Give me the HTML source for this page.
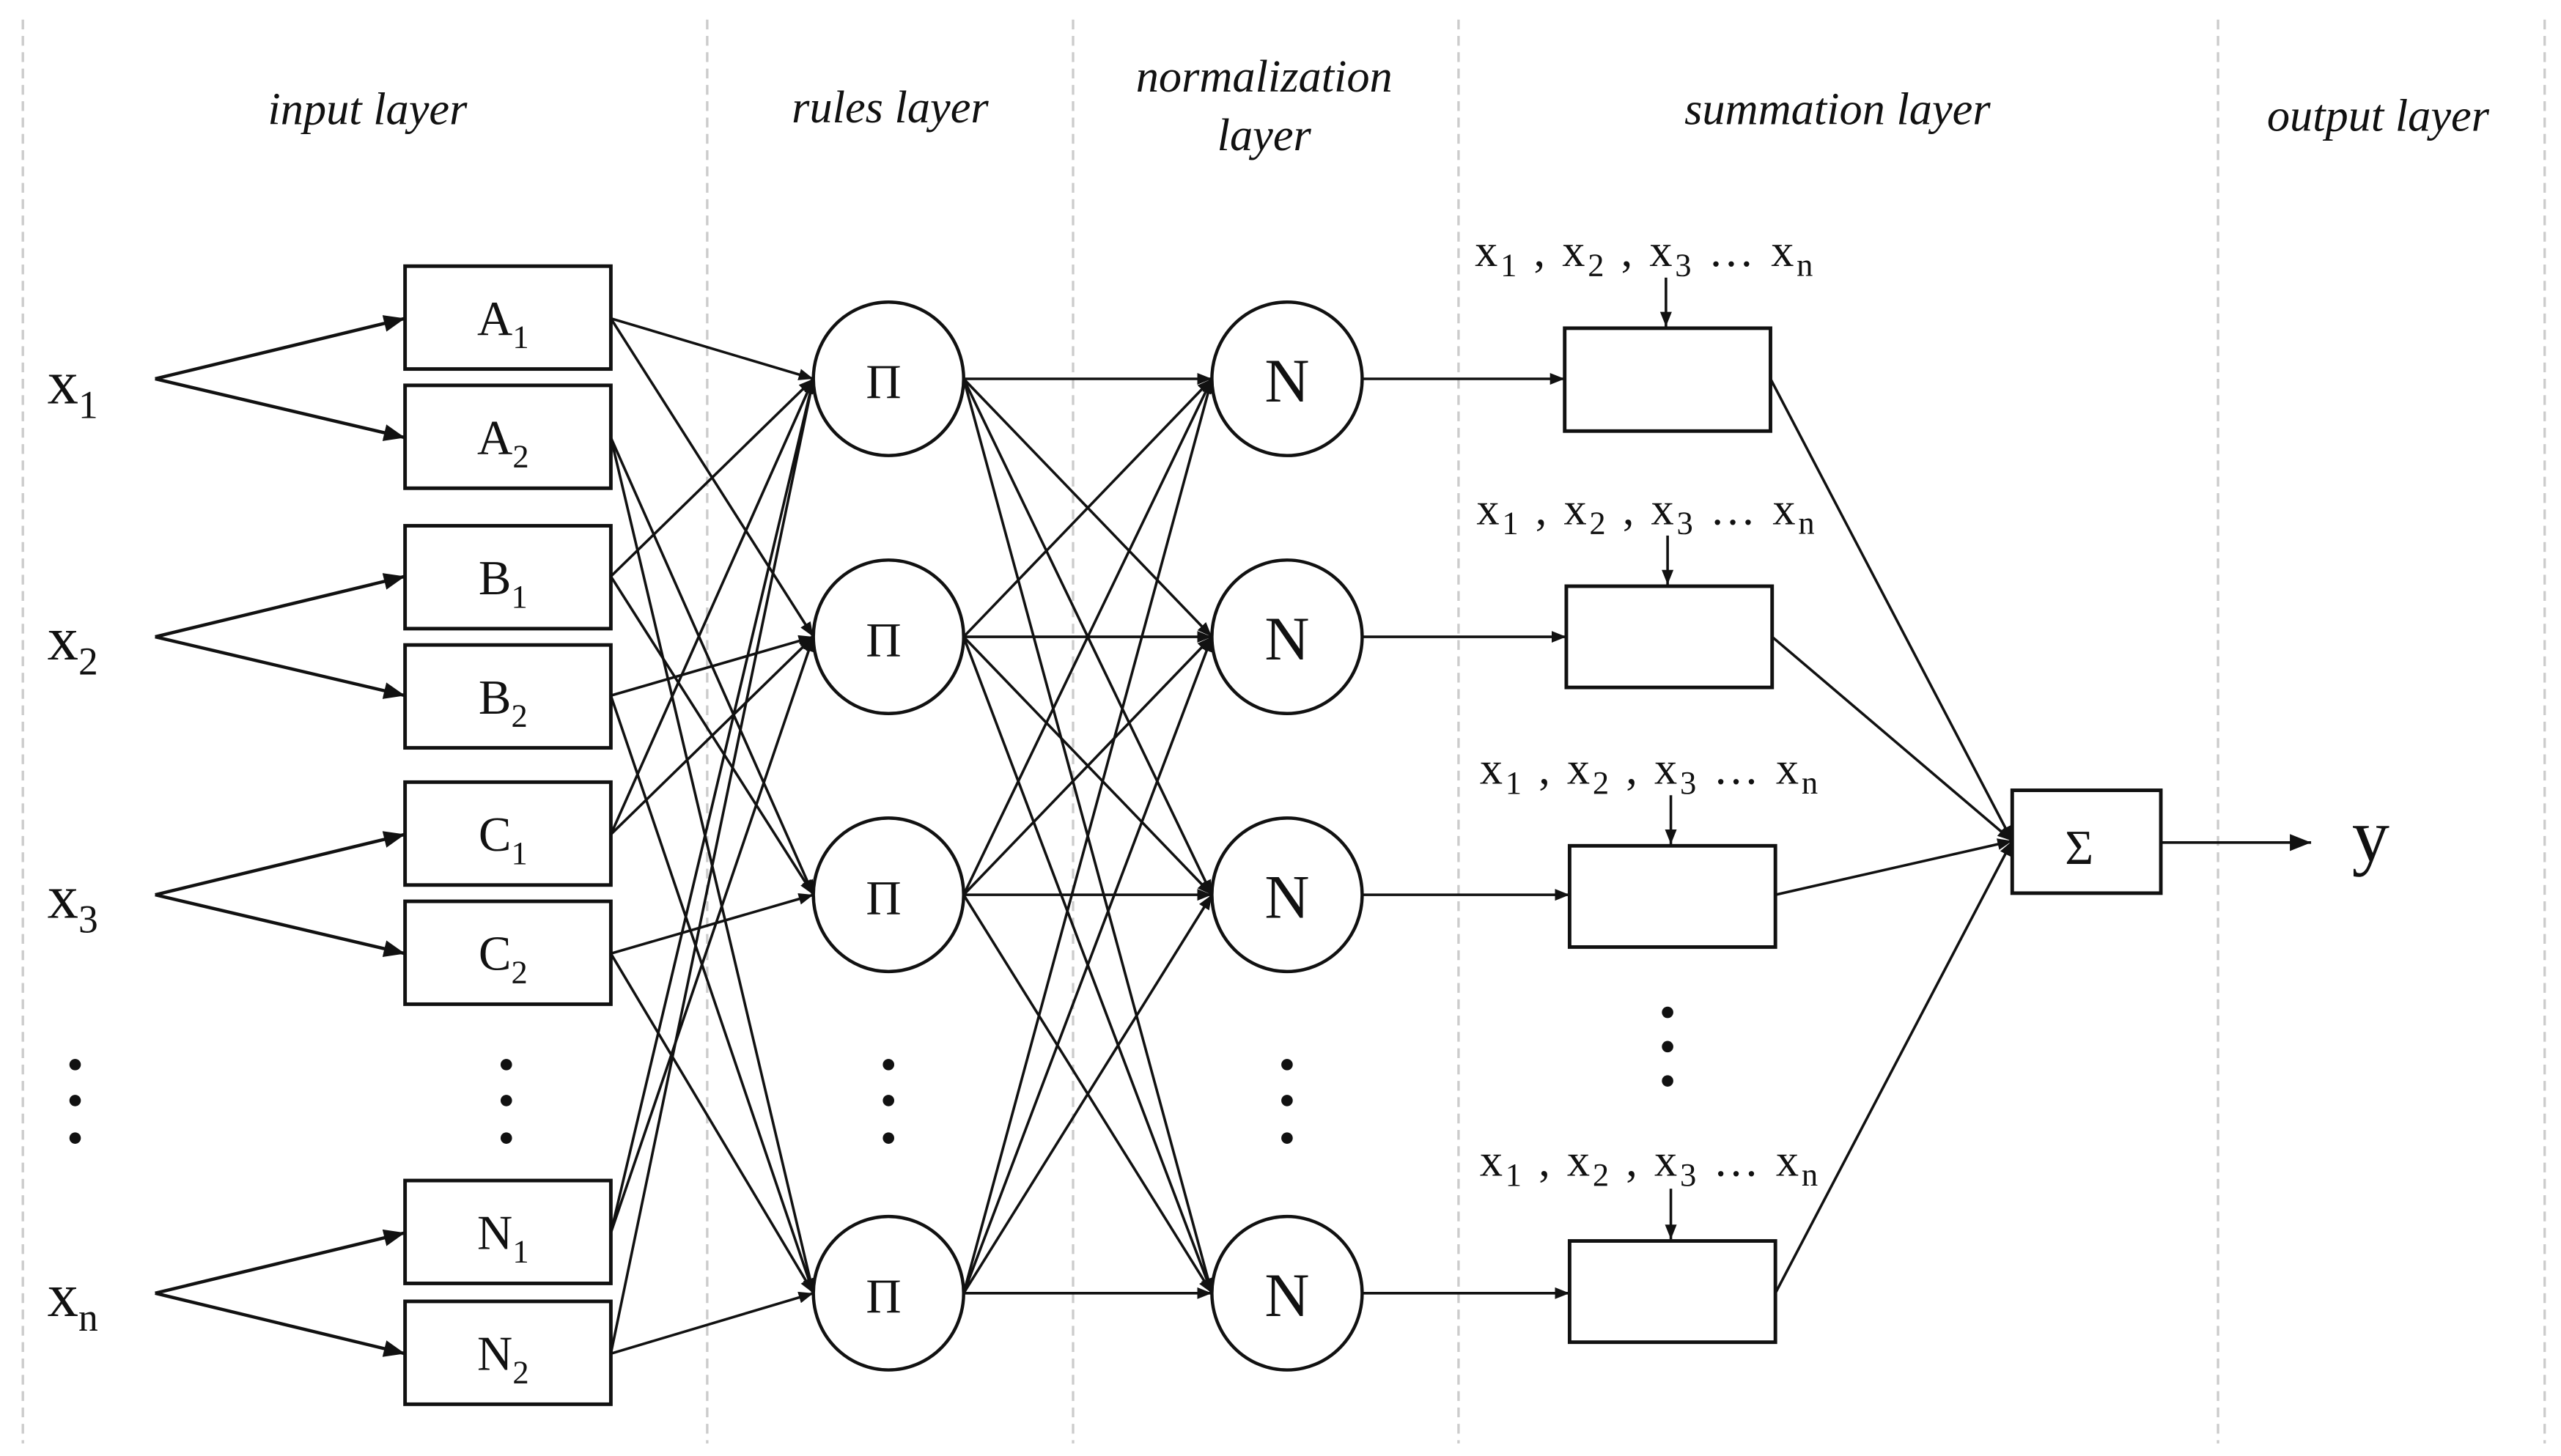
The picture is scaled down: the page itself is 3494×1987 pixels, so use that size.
<!DOCTYPE html>
<html><head><meta charset="utf-8"><style>
html,body{margin:0;padding:0;background:#fff;}
svg{display:block;}
text{font-family:"Liberation Serif",serif;fill:#111;}
.h{font-style:italic;font-size:28px;text-anchor:middle;}
.m{font-size:30px;text-anchor:middle;}
.s{font-size:20px;}
</style></head><body>
<svg width="3494" height="1987" viewBox="0 0 1568 891.7" xmlns="http://www.w3.org/2000/svg">
<defs><marker id="a" viewBox="0 0 10 10" refX="10" refY="5" markerWidth="9" markerHeight="9" markerUnits="userSpaceOnUse" orient="auto"><path d="M0,1 L10,5 L0,9 z" fill="#111"/></marker>
<marker id="b" viewBox="0 0 10 10" refX="10" refY="5" markerWidth="13" markerHeight="13" markerUnits="userSpaceOnUse" orient="auto"><path d="M0,1 L10,5 L0,9 z" fill="#111"/></marker></defs>
<g stroke="#ccc" stroke-width="1.5" stroke-dasharray="6,4">
<line x1="14" y1="12" x2="14" y2="884"/><line x1="433" y1="12" x2="433" y2="884"/><line x1="657" y1="12" x2="657" y2="884"/><line x1="893" y1="12" x2="893" y2="884"/><line x1="1358" y1="12" x2="1358" y2="884"/><line x1="1558" y1="12" x2="1558" y2="884"/>
</g>
<text class="h" x="225" y="76">input layer</text>
<text class="h" x="545" y="75">rules layer</text>
<text class="h" x="774" y="56">normalization</text>
<text class="h" x="774" y="92">layer</text>
<text class="h" x="1125" y="76">summation layer</text>
<text class="h" x="1456" y="80">output layer</text>
<g font-size="38">
<text x="29" y="247">x<tspan font-size="24" dy="9">1</tspan></text>
<text x="29" y="404">x<tspan font-size="24" dy="9">2</tspan></text>
<text x="29" y="562">x<tspan font-size="24" dy="9">3</tspan></text>
<text x="29" y="806">x<tspan font-size="24" dy="9">n</tspan></text>
</g>
<g fill="#111"><circle cx="46" cy="652" r="3.5"/><circle cx="46" cy="674" r="3.5"/><circle cx="46" cy="697" r="3.5"/>
<circle cx="310" cy="652" r="3.5"/><circle cx="310" cy="674" r="3.5"/><circle cx="310" cy="697" r="3.5"/>
<circle cx="544" cy="652" r="3.5"/><circle cx="544" cy="674" r="3.5"/><circle cx="544" cy="697" r="3.5"/>
<circle cx="788" cy="652" r="3.5"/><circle cx="788" cy="674" r="3.5"/><circle cx="788" cy="697" r="3.5"/>
<circle cx="1021" cy="620" r="3.5"/><circle cx="1021" cy="641" r="3.5"/><circle cx="1021" cy="662" r="3.5"/></g>
<g stroke="#111" stroke-width="2" fill="none" marker-end="url(#b)">
<path d="M95,232 L248,195"/><path d="M95,232 L248,268"/>
<path d="M95,390 L248,353"/><path d="M95,390 L248,426"/>
<path d="M95,548 L248,511"/><path d="M95,548 L248,584"/>
<path d="M95,792 L248,755"/><path d="M95,792 L248,829"/>
</g>
<g stroke="#111" stroke-width="2.2" fill="#fff">
<rect x="248" y="163" width="126" height="63"/><rect x="248" y="236" width="126" height="63"/>
<rect x="248" y="322" width="126" height="63"/><rect x="248" y="395" width="126" height="63"/>
<rect x="248" y="479" width="126" height="63"/><rect x="248" y="552" width="126" height="63"/>
<rect x="248" y="723" width="126" height="63"/><rect x="248" y="797" width="126" height="63"/>
</g>
<g class="m">
<text x="308" y="205">A<tspan font-size="20" dy="8">1</tspan></text>
<text x="308" y="278">A<tspan font-size="20" dy="8">2</tspan></text>
<text x="308" y="364">B<tspan font-size="20" dy="8">1</tspan></text>
<text x="308" y="437">B<tspan font-size="20" dy="8">2</tspan></text>
<text x="308" y="521">C<tspan font-size="20" dy="8">1</tspan></text>
<text x="308" y="594">C<tspan font-size="20" dy="8">2</tspan></text>
<text x="308" y="765">N<tspan font-size="20" dy="8">1</tspan></text>
<text x="308" y="839">N<tspan font-size="20" dy="8">2</tspan></text>
</g>
<g stroke="#111" stroke-width="1.6" fill="none" marker-end="url(#a)">
<path d="M374,195 L498,232"/><path d="M374,195 L498,390"/>
<path d="M374,268 L498,548"/><path d="M374,268 L498,792"/>
<path d="M374,353 L498,232"/><path d="M374,353 L498,548"/>
<path d="M374,426 L498,390"/><path d="M374,426 L498,792"/>
<path d="M374,511 L498,232"/><path d="M374,511 L498,390"/>
<path d="M374,584 L498,548"/><path d="M374,584 L498,792"/>
<path d="M374,755 L498,232"/><path d="M374,755 L498,390"/>
<path d="M374,829 L498,232"/><path d="M374,829 L498,792"/>
</g>
<g stroke="#111" stroke-width="1.6" fill="none" marker-end="url(#a)">
<path d="M590,232 L742,232"/><path d="M590,232 L742,390"/><path d="M590,232 L742,548"/><path d="M590,232 L742,792"/>
<path d="M590,390 L742,232"/><path d="M590,390 L742,390"/><path d="M590,390 L742,548"/><path d="M590,390 L742,792"/>
<path d="M590,548 L742,232"/><path d="M590,548 L742,390"/><path d="M590,548 L742,548"/><path d="M590,548 L742,792"/>
<path d="M590,792 L742,232"/><path d="M590,792 L742,390"/><path d="M590,792 L742,548"/><path d="M590,792 L742,792"/>
</g>
<g stroke="#111" stroke-width="2" fill="#fff">
<ellipse cx="544" cy="232" rx="46" ry="47"/><ellipse cx="544" cy="390" rx="46" ry="47"/><ellipse cx="544" cy="548" rx="46" ry="47"/><ellipse cx="544" cy="792" rx="46" ry="47"/>
<ellipse cx="788" cy="232" rx="46" ry="47"/><ellipse cx="788" cy="390" rx="46" ry="47"/><ellipse cx="788" cy="548" rx="46" ry="47"/><ellipse cx="788" cy="792" rx="46" ry="47"/>
</g>
<g class="m">
<text x="541" y="244">Π</text><text x="541" y="402">Π</text><text x="541" y="560">Π</text><text x="541" y="804">Π</text>
<g font-size="38"><text x="788" y="246">N</text><text x="788" y="404">N</text><text x="788" y="562">N</text><text x="788" y="806">N</text></g>
</g>
<g stroke="#111" stroke-width="1.6" fill="none" marker-end="url(#a)">
<path d="M834,232 L958,232"/><path d="M834,390 L959,390"/><path d="M834,548 L961,548"/><path d="M834,792 L961,792"/>
<path d="M1020,170 L1020,200"/><path d="M1021,328 L1021,358"/><path d="M1023,487 L1023,517"/><path d="M1023,728 L1023,759"/>
<path d="M1084,232 L1232,515"/><path d="M1085,390 L1232,515"/><path d="M1087,548 L1232,515"/><path d="M1087,792 L1232,515"/>
<path d="M1323,516 L1415,516" marker-end="url(#b)"/>
</g>
<g stroke="#111" stroke-width="2.2" fill="#fff">
<rect x="958" y="201" width="126" height="63"/><rect x="959" y="359" width="126" height="62"/>
<rect x="961" y="518" width="126" height="62"/><rect x="961" y="760" width="126" height="62"/>
<rect x="1232" y="484" width="91" height="63"/>
</g>
<g font-size="28">
<text x="903" y="163" textLength="207" lengthAdjust="spacing">x<tspan class="s" dy="6">1</tspan><tspan dy="-6"> , x</tspan><tspan class="s" dy="6">2</tspan><tspan dy="-6"> , x</tspan><tspan class="s" dy="6">3</tspan><tspan dy="-6"> … x</tspan><tspan class="s" dy="6">n</tspan></text>
<text x="904" y="321" textLength="207" lengthAdjust="spacing">x<tspan class="s" dy="6">1</tspan><tspan dy="-6"> , x</tspan><tspan class="s" dy="6">2</tspan><tspan dy="-6"> , x</tspan><tspan class="s" dy="6">3</tspan><tspan dy="-6"> … x</tspan><tspan class="s" dy="6">n</tspan></text>
<text x="906" y="480" textLength="207" lengthAdjust="spacing">x<tspan class="s" dy="6">1</tspan><tspan dy="-6"> , x</tspan><tspan class="s" dy="6">2</tspan><tspan dy="-6"> , x</tspan><tspan class="s" dy="6">3</tspan><tspan dy="-6"> … x</tspan><tspan class="s" dy="6">n</tspan></text>
<text x="906" y="720" textLength="207" lengthAdjust="spacing">x<tspan class="s" dy="6">1</tspan><tspan dy="-6"> , x</tspan><tspan class="s" dy="6">2</tspan><tspan dy="-6"> , x</tspan><tspan class="s" dy="6">3</tspan><tspan dy="-6"> … x</tspan><tspan class="s" dy="6">n</tspan></text>
</g>
<text class="m" x="1273" y="529" font-size="36">Σ</text>
<text x="1440" y="527" font-size="46">y</text>
</svg>
</body></html>
